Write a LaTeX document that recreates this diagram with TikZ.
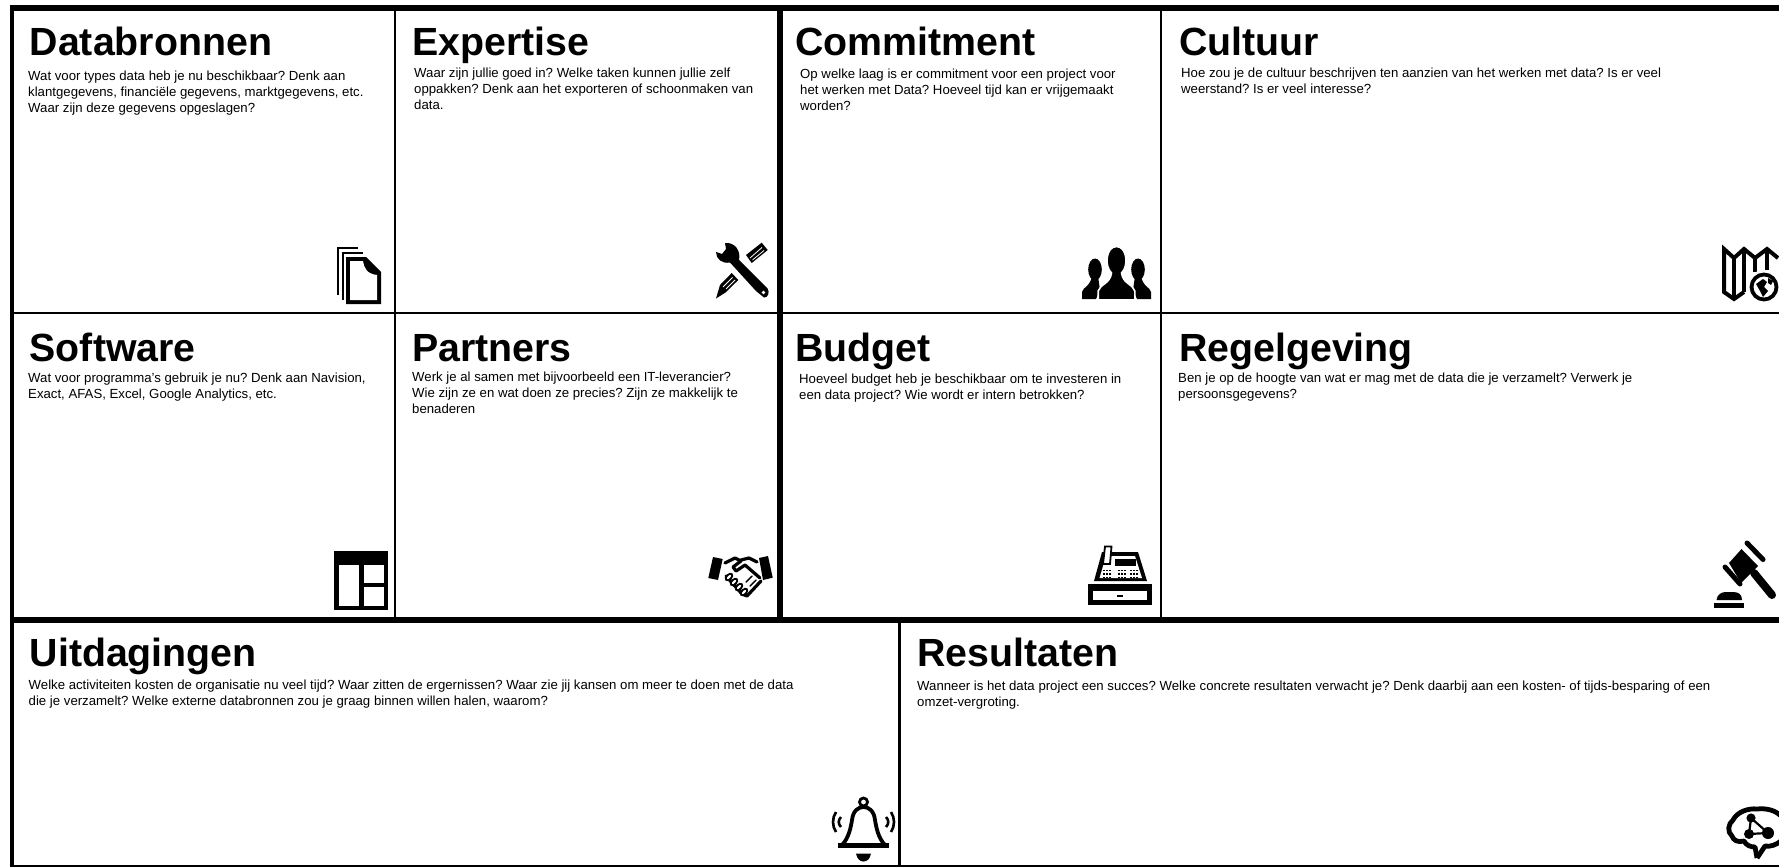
\documentclass[tikz,border=0pt]{standalone}
\usepackage{fontspec}
\setmainfont{Liberation Sans}
\usetikzlibrary{positioning}

\begin{document}
\frenchspacing
\begin{tikzpicture}[x=1pt, y=-1pt,
        thinline/.style={line width=2.2pt},
        thickline/.style={line width=5.6pt},
        cardtitle/.style={anchor=base west, inner sep=0pt, font=\fontsize{39.3}{44}\bfseries\selectfont},
        cardtext/.style={anchor=north west, inner sep=0pt, align=left, font=\fontsize{13.2}{16}\selectfont,
            execute at begin node={\rule{0pt}{12pt}}},
        icon/.style={fill=black, draw=none},
        iconline/.style={draw=black, line width=3pt, line cap=round, line join=round},
        hole/.style={fill=white, draw=none}
    ]
        \useasboundingbox (0,0) rectangle (1779,867);
        \fill[white] (0,0) rectangle (1779,867);

        % grid
        \draw [thinline] (395,8) -- (395,620);
        \draw [thinline] (1161,8) -- (1161,620);
        \draw [thinline] (12,313) -- (1779,313);
        \draw [thinline] (899.5,620) -- (899.5,866);
        \draw [thinline] (12,865.8) -- (1779,865.8);
        \draw [thickline] (780,8) -- (780,620);
        \draw [thickline] (12,620) -- (1779,620);
        \draw [line width=4.6pt] (12,6) -- (12,867);
        \draw [thickline] (9.7,8.3) -- (1779,8.3);

        % first row
        \node [cardtitle] (databronnen) at (29.5,56) {Databronnen};
        \node [cardtext] (databronnentext) at (28,71) {Wat voor types data heb je nu beschikbaar? Denk aan\\klantgegevens, financiële gegevens, marktgegevens, etc.\\Waar zijn deze gegevens opgeslagen?};
        \node [cardtitle] (expertise) at (412,56) {Expertise};
        \node [cardtext] (expertisetext) at (414,68) {Waar zijn jullie goed in? Welke taken kunnen jullie zelf\\oppakken? Denk aan het exporteren of schoonmaken van\\data.};
        \node [cardtitle] (commitment) at (795,56) {Commitment};
        \node [cardtext] (commitmenttext) at (800,69) {Op welke laag is er commitment voor een project voor\\het werken met Data? Hoeveel tijd kan er vrijgemaakt\\worden?};
        \node [cardtitle] (cultuur) at (1179,56) {Cultuur};
        \node [cardtext] (cultuurtext) at (1181,68) {Hoe zou je de cultuur beschrijven ten aanzien van het werken met data? Is er veel\\weerstand? Is er veel interesse?};

        % second row
        \node [cardtitle] (software) at (29.5,361) {Software};
        \node [cardtext] (softwaretext) at (28,373) {Wat voor programma's gebruik je nu? Denk aan Navision,\\Exact, AFAS, Excel, Google Analytics, etc.};
        \node [cardtitle] (partners) at (412,361) {Partners};
        \node [cardtext] (partnerstext) at (412,372) {Werk je al samen met bijvoorbeeld een IT-leverancier?\\Wie zijn ze en wat doen ze precies? Zijn ze makkelijk te\\benaderen};
        \node [cardtitle] (budget) at (795,361) {Budget};
        \node [cardtext] (budgettext) at (799,374) {Hoeveel budget heb je beschikbaar om te investeren in\\een data project? Wie wordt er intern betrokken?};
        \node [cardtitle] (regelgeving) at (1179,361) {Regelgeving};
        \node [cardtext] (regelgevingtext) at (1178,373) {Ben je op de hoogte van wat er mag met de data die je verzamelt? Verwerk je\\persoonsgegevens?};

        % third row
        \node [cardtitle] (uitdagingen) at (29.5,666) {Uitdagingen};
        \node [cardtext] (uitdagingentext) at (28.5,680) {Welke activiteiten kosten de organisatie nu veel tijd? Waar zitten de ergernissen? Waar zie jij kansen om meer te doen met de data\\die je verzamelt? Welke externe databronnen zou je graag binnen willen halen, waarom?};
        \node [cardtitle] (resultaten) at (917,666) {Resultaten};
        \node [cardtext] (resultatentext) at (917,680.5) {Wanneer is het data project een succes? Welke concrete resultaten verwacht je? Denk daarbij aan een kosten- of tijds-besparing of een\\omzet-vergroting.};

        % stack of pages
        \draw [line width=2pt] (338,295) -- (338,248) -- (358,248);
        \draw [line width=2pt] (342.5,300) -- (342.5,253) -- (363,253);
        \fill [icon] (346,257) -- (366,257) -- (381,272) -- (381,304) -- (346,304) -- cycle;
        \fill [hole] (350,261) -- (363,261) .. controls (364,268) and (367,274) .. (377,275) -- (377,300) -- (350,300) -- cycle;

        % wrench and pencil
        \fill [icon] (725,243) -- (726,249) -- (722,254) -- (716,252) .. controls (716,259) and (722,264) .. (730,262.5) -- (756,291)
            -- (764,297.5) .. controls (768,298) and (770,292) .. (767.5,288.5) -- (739,260)
            .. controls (741,251) and (735,242) .. (725,243) -- cycle;
        \fill [hole] (763.5,292.5) circle (1.8);
        \fill [icon] (746,255) -- (761.7,242.7) -- (767.7,250) -- (751.7,263) -- cycle;
        \draw [white, line width=0.8pt] (750,258) -- (762,247.5);
        \draw [white, line width=0.8pt] (752.5,260) -- (764,250.5);
        \fill [icon] (716,298.5) -- (720,285) -- (731.7,273) -- (738.3,280) -- (725.5,292.5) -- cycle;
        \draw [white, line width=0.8pt] (723,287) -- (732.5,277.5);
        \draw [white, line width=0.8pt] (726,289) -- (735,280);

        % three people
        \fill [icon] (1095,269.5) ellipse (6.8 and 11);
        \fill [icon] (1082,299) -- (1082,292) .. controls (1083,287) and (1090,287) .. (1092,276) -- (1098,276)
            -- (1100,290) -- (1096,299) -- cycle;
        \fill [icon] (1138,269.5) ellipse (6.8 and 11);
        \fill [icon] (1151,299) -- (1151,292) .. controls (1150,287) and (1143,287) .. (1141,276) -- (1135,276)
            -- (1133,290) -- (1137,299) -- cycle;
        \draw [fill=black, draw=white, line width=1.6pt] (1098.2,299.8) -- (1098.2,291) .. controls (1100,284) and (1110,284) .. (1111.5,273)
            .. controls (1104,266) and (1106,246.5) .. (1116.5,246.5) .. controls (1127,246.5) and (1129,266) .. (1121.5,273)
            .. controls (1123,284) and (1133,284) .. (1134.8,291) -- (1134.8,299.8) -- cycle;

        % map with globe
        \draw [iconline, line width=4pt, line cap=butt, line join=miter] (1778,258) -- (1767,249) -- (1755,258) -- (1744,249) -- (1734,258) -- (1724,249)
            -- (1724,292) -- (1734,299) -- (1744,292);
        \draw [line width=3.4pt] (1734,258) -- (1734,298);
        \draw [line width=3.4pt] (1744,250) -- (1744,292);
        \draw [line width=3.4pt] (1755,258) -- (1755,272);
        \draw [line width=3.4pt] (1767,249) -- (1767,270);
        \fill [hole] (1764,287) circle (17);
        \draw [line width=3.8pt] (1764,287) circle (12.5);
        \fill [icon] (1756,284) -- (1763,279) -- (1767,282) -- (1764,287) -- (1768,291) -- (1763,297) -- (1760,291) -- cycle;
        \fill [icon] (1768,278) -- (1773,281) -- (1771,285) -- (1768,283) -- cycle;

        % table
        \fill [icon] (334,551) rectangle (388,610);
        \fill [hole] (338.5,565) rectangle (359,606);
        \fill [hole] (363.5,565) rectangle (384,583);
        \fill [hole] (363.5,587) rectangle (384,606);

        % handshake
        \fill [icon] (708.3,578) -- (713,557) -- (722.7,559) -- (718,580) -- cycle;
        \fill [icon] (759,558) -- (768,556) -- (772.7,577.7) -- (763,580) -- cycle;
        \draw [iconline, line width=3.2pt] (725,563) -- (735,558) -- (741,561) -- (733,567) -- (736,571) -- (745,565) -- (760,578);
        \draw [iconline, line width=3.2pt] (741,560) -- (749,558) -- (757,562);
        \draw [iconline, line width=3.2pt] (726,576) -- (742,594) -- (747,596) -- (761,581);
        \foreach \i in {0,1,2,3} {
            \fill [icon, rotate around={45:(729+5*\i,577+5*\i)}] (729+5*\i,577+5*\i) ellipse (5 and 3.4);
            \fill [hole, rotate around={45:(729+5*\i,577+5*\i)}] (729+5*\i,577+5*\i) ellipse (2.8 and 1.2);
        }
        \draw [iconline, line width=1.4pt] (746,582) -- (752,576);
        \draw [iconline, line width=1.4pt] (750,586) -- (756,580);

        % cash register
        \fill [icon] (1102,552) -- (1138,552) -- (1147,581) -- (1094,581) -- cycle;
        \fill [hole] (1106,556) -- (1135,556) -- (1142,578) -- (1099.5,578) -- cycle;
        \fill [icon] (1115,559) rectangle (1136,566);
        \draw [fill=white, line width=1.8pt] (1105,546.5) -- (1111.5,546.5) -- (1110,564) -- (1103,564) -- cycle;
        \foreach \x in {1103,1118,1130} {
            \foreach \y in {569.5,573,576.5} {
                \foreach \k in {0,3,6} {
                    \fill [icon] (\x+\k,\y) rectangle +(2,1.8);
                }
            }
        }
        \fill [icon] (1088,584) rectangle (1152,605);
        \fill [hole] (1093,591) rectangle (1146.5,600);
        \fill [icon] (1117,594.5) rectangle (1122.5,596.5);

        % gavel
        \fill [icon] (1741.5,549) -- (1758,566) -- (1741,583) -- (1729,563) -- cycle;
        \draw [iconline, line width=5pt] (1747,543) -- (1763,559.5);
        \draw [iconline, line width=5pt] (1725,567) -- (1740,584);
        \draw [iconline, line width=8pt] (1754,573) -- (1772,595);
        \fill [icon] (1716.5,600) .. controls (1717,594) and (1722,592) .. (1726,592) -- (1733,592) .. controls (1738,592) and (1742,594) .. (1742,600) -- cycle;
        \fill [icon] (1714,603) rectangle (1744,607.5);

        % bell
        \draw [line width=2.8pt] (863.5,802) circle (4);
        \draw [iconline, line width=3.8pt, line cap=butt] (842,845) .. controls (849,838) and (851,826) .. (852,820) .. controls (853,811) and (858,807) .. (863.5,807)
            .. controls (869,807) and (874,811) .. (875,820) .. controls (876,826) and (878,838) .. (885,845);
        \fill [icon] (838,843) -- (889,843) -- (889,848) -- (838,848) -- cycle;
        \fill [icon] (856,853.5) -- (871,853.5) .. controls (870,859) and (867,861.5) .. (863.5,861.5) .. controls (860,861.5) and (857,859) .. (856,853.5) -- cycle;
        \draw [line width=2.6pt] (836,812) .. controls (832,818) and (832,826) .. (836,832);
        \draw [line width=2.6pt] (841,817) .. controls (838,820) and (838,824) .. (841,827);
        \draw [line width=2.6pt] (891,812) .. controls (895,818) and (895,826) .. (891,832);
        \draw [line width=2.6pt] (886,817) .. controls (889,820) and (889,824) .. (886,827);

        % brain
        \draw [line width=4.8pt, line join=round] (1757,858) -- (1755,847) .. controls (1750,847) and (1746,845) .. (1744,841)
            .. controls (1738,843) and (1733,840) .. (1732,836) .. controls (1727,832) and (1728,824) .. (1733,820)
            .. controls (1737,812) and (1748,808) .. (1757,809) .. controls (1766,808) and (1775,810) .. (1781,816);
        \draw [line width=4.8pt, line join=round] (1781,841) .. controls (1776,845) and (1770,847) .. (1765,846) -- (1757,858);
        \fill [icon] (1751,818) circle (4.6);
        \fill [icon] (1749,834) circle (5);
        \fill [icon] (1768,833) circle (6);
        \draw [line width=2.2pt] (1751,818) -- (1749,834) -- (1768,833) -- cycle;
    \end{tikzpicture}
\end{document}
